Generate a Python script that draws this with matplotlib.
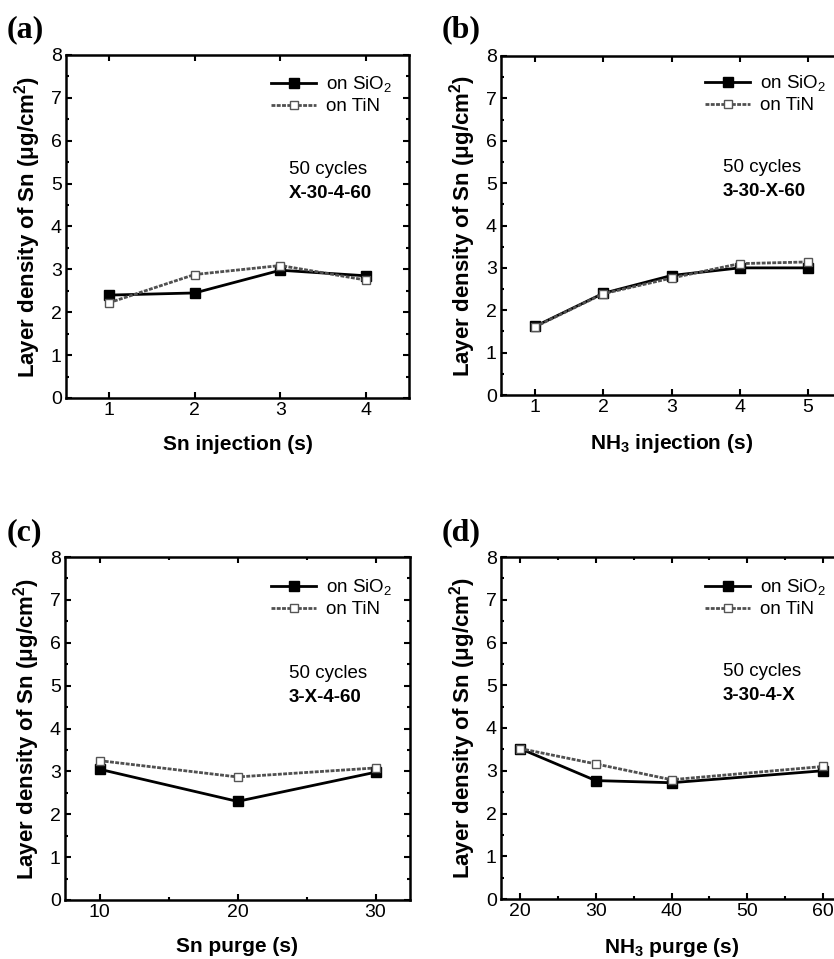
import matplotlib
matplotlib.use('Agg')
import matplotlib.pyplot as plt
from matplotlib.ticker import MultipleLocator

W, H = 834, 959
plt.rcParams['font.family'] = ['Liberation Sans', 'DejaVu Sans']
plt.rcParams['mathtext.fontset'] = 'custom'
plt.rcParams['mathtext.rm'] = 'Liberation Sans'
plt.rcParams['mathtext.bf'] = 'Liberation Sans:bold'

# ---------------- data ----------------
a_x = [1, 2, 3, 4]
a_sio2 = [2.40, 2.45, 2.98, 2.85]
a_tin = [2.22, 2.88, 3.09, 2.75]

b_x = [1, 2, 3, 4, 5]
b_sio2 = [1.62, 2.40, 2.82, 3.00, 3.00]
b_tin = [1.61, 2.39, 2.76, 3.10, 3.14]

c_x = [10, 20, 30]
c_sio2 = [3.05, 2.30, 2.98]
c_tin = [3.25, 2.87, 3.08]

d_x = [20, 30, 40, 60]
d_sio2 = [3.52, 2.77, 2.72, 3.00]
d_tin = [3.52, 3.16, 2.79, 3.10]

series_labels = ['on SiO$_\\mathregular{2}$', 'on TiN']
ylabel = 'Layer density of Sn (\u03bcg/cm$^\\mathregular{2}$)'
xlabels = ['Sn injection (s)', 'NH$_\\mathregular{3}$ injection (s)',
           'Sn purge (s)', 'NH$_\\mathregular{3}$ purge (s)']
recipes = ['X-30-4-60', '3-30-X-60', '3-X-4-60', '3-30-4-X']
letters = ['(a)', '(b)', '(c)', '(d)']

fig = plt.figure(figsize=(W / 100, H / 100), dpi=100)

panels = [
    dict(x=a_x, s=a_sio2, t=a_tin, box=(66, 55, 409, 398), xlim=(0.5, 4.5), maj=1, minr=None,
         leg=(271, 75), txt=(289, 169), let=(7, 30)),
    dict(x=b_x, s=b_sio2, t=b_tin, box=(501, 56, 842, 395), xlim=(0.5, 5.5), maj=1, minr=None,
         leg=(705, 74), txt=(723, 167), let=(442, 30)),
    dict(x=c_x, s=c_sio2, t=c_tin, box=(65, 557, 410, 900), xlim=(7.5, 32.5), maj=10, minr=5,
         leg=(271, 578), txt=(289, 673), let=(7, 533)),
    dict(x=d_x, s=d_sio2, t=d_tin, box=(501, 557, 842, 899), xlim=(17.5, 62.5), maj=10, minr=5,
         leg=(705, 578), txt=(723, 672), let=(442, 533)),
]

for i, p in enumerate(panels):
    l, t, r, b = p['box']
    ax = fig.add_axes([l / W, 1 - b / H, (r - l) / W, (b - t) / H])
    ls, = ax.plot(p['x'], p['s'], color='black', lw=2, marker='s', ms=6.5,
                  mfc='black', mec='black', zorder=3)
    lt, = ax.plot(p['x'], p['t'], color='#505050', lw=2, ls=(0, (1.4, 0.5)), marker='s', ms=6,
                  mfc='white', mec='#555555', mew=1, zorder=4)
    ax.set_xlim(*p['xlim'])
    ax.set_ylim(0, 8)
    ax.xaxis.set_major_locator(MultipleLocator(p['maj']))
    if p['minr']:
        ax.xaxis.set_minor_locator(MultipleLocator(p['minr']))
    ax.yaxis.set_major_locator(MultipleLocator(1))
    ax.yaxis.set_minor_locator(MultipleLocator(0.5))
    ax.tick_params(which='both', direction='in', top=True, right=True, width=1.5,
                   labelsize=14)
    ax.tick_params(which='major', length=4, pad=3)
    ax.tick_params(which='minor', length=2.5)
    for sp in ax.spines.values():
        sp.set_linewidth(1.8)
    hpx = b - t
    wpx = r - l
    ax.set_ylabel(ylabel, fontsize=16, fontweight='bold')
    ax.yaxis.set_label_coords(-23 / wpx, 0.5)
    ax.set_xlabel(xlabels[i], fontsize=15, fontweight='bold')
    ax.xaxis.set_label_coords(0.5, -37 / hpx)
    ax.legend([ls, lt], series_labels, loc='upper left',
              bbox_to_anchor=(p['leg'][0] / W, 1 - p['leg'][1] / H),
              bbox_transform=fig.transFigure, frameon=False, borderpad=0,
              borderaxespad=0, handlelength=2.4, handletextpad=0.55,
              labelspacing=0.15, fontsize=13.5)
    tx, ty = p['txt']
    fig.text(tx / W, 1 - ty / H, '50 cycles', fontsize=13.5, va='center', ha='left')
    fig.text(tx / W, 1 - (ty + 24) / H, recipes[i], fontsize=13.5, fontweight='bold',
             va='center', ha='left')
    lx, lyy = p['let']
    fig.text(lx / W, 1 - lyy / H, letters[i], fontsize=23, fontweight='bold',
             family='Liberation Serif', va='center', ha='left')

fig.savefig('out.png', dpi=100)
